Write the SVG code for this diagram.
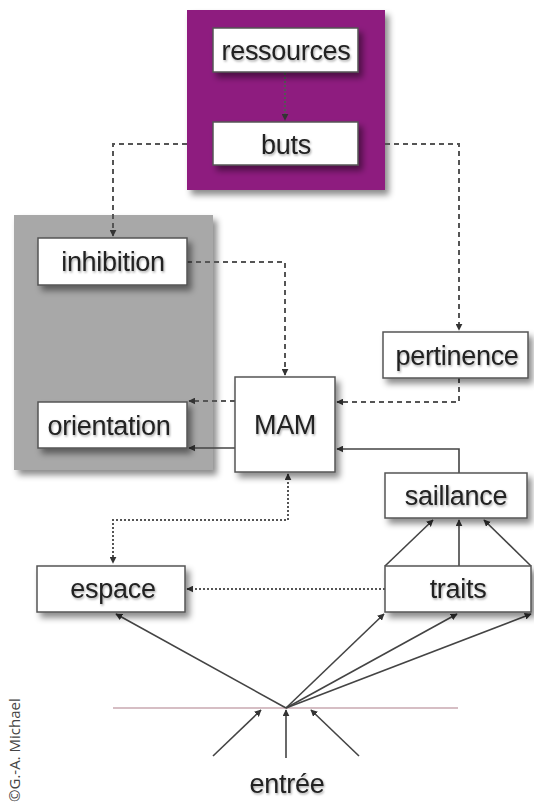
<svg xmlns="http://www.w3.org/2000/svg" width="534" height="806" viewBox="0 0 534 806">
<style>
.box{fill:#fff;stroke:#555;stroke-width:1.5}
.lbl{font-family:"Liberation Sans",Arial,sans-serif;font-size:27px;fill:#222;text-anchor:middle;letter-spacing:-0.3px}
.dash{fill:none;stroke:#555;stroke-width:2;stroke-dasharray:5 4}
.dot{fill:none;stroke:#555;stroke-width:2;stroke-dasharray:2 2}
.solid{fill:none;stroke:#444;stroke-width:1.6}
</style>
<defs>
<filter id="sh" x="-20%" y="-20%" width="150%" height="160%">
<feDropShadow dx="4" dy="5" stdDeviation="3" flood-color="#000" flood-opacity="0.45"/>
</filter>
<filter id="tsh" x="-10%" y="-30%" width="130%" height="170%">
<feDropShadow dx="1" dy="1.5" stdDeviation="1" flood-color="#000" flood-opacity="0.35"/>
</filter>
<marker id="ah" viewBox="0 0 10 10" refX="9" refY="5" markerWidth="7" markerHeight="7" orient="auto-start-reverse" markerUnits="userSpaceOnUse">
<path d="M0,0 L10,5 L0,10 z" fill="#333"/>
</marker>
</defs>
<rect width="534" height="806" fill="#fff"/>

<g id="groupe-buts">
<rect x="187" y="10" width="198" height="180" fill="#8e1f7f" filter="url(#sh)"/>
</g>
<g id="groupe-inhibition">
<rect x="14" y="215" width="199" height="255" fill="#a8a8a8" filter="url(#sh)"/>
</g>

<g id="connectors">
<path class="dot" d="M285,73 V120" marker-end="url(#ah)" stroke="#bbb"/>
<path class="dash" d="M187,144 H113 V236" marker-end="url(#ah)"/>
<path class="dash" d="M385,144 H459 V330" marker-end="url(#ah)"/>
<path class="dash" d="M187,262 H285 V375" marker-end="url(#ah)"/>
<path class="dash" d="M459,378 V402 H337" marker-end="url(#ah)"/>
<path class="dash" d="M235,401 H189" marker-end="url(#ah)"/>
<path class="solid" d="M235,448 H189" marker-end="url(#ah)"/>
<path class="solid" d="M459,473 V449 H337" marker-end="url(#ah)"/>
<path class="dot" d="M288,474 V520 H113 V563" marker-start="url(#ah)" marker-end="url(#ah)"/>
<path class="dot" d="M385,589 H187" marker-end="url(#ah)"/>
<path class="solid" d="M385,566 L433,520" marker-end="url(#ah)"/>
<path class="solid" d="M459,566 V520" marker-end="url(#ah)"/>
<path class="solid" d="M531,566 L484,520" marker-end="url(#ah)"/>
<line x1="113" y1="708" x2="458" y2="708" stroke="#c9a9b0" stroke-width="1.5"/>
<path class="solid" d="M286,708 L116,614" marker-end="url(#ah)"/>
<path class="solid" d="M286,708 L384,614" marker-end="url(#ah)"/>
<path class="solid" d="M286,708 L457,614" marker-end="url(#ah)"/>
<path class="solid" d="M286,708 L531,614" marker-end="url(#ah)"/>
<path class="solid" d="M213,756 L261,710" marker-end="url(#ah)"/>
<path class="solid" d="M286,758 V710" marker-end="url(#ah)"/>
<path class="solid" d="M359,756 L311,710" marker-end="url(#ah)"/>
</g>

<g id="ressources">
<rect class="box" x="213" y="28" width="145" height="44" filter="url(#sh)"/>
<text class="lbl" x="286" y="60" filter="url(#tsh)">ressources</text>
</g>
<g id="buts">
<rect class="box" x="213" y="122" width="145" height="43" filter="url(#sh)"/>
<text class="lbl" x="286" y="154" filter="url(#tsh)">buts</text>
</g>
<g id="inhibition">
<rect class="box" x="38" y="238" width="149" height="47" filter="url(#sh)"/>
<text class="lbl" x="113" y="271" filter="url(#tsh)">inhibition</text>
</g>
<g id="orientation">
<rect class="box" x="38" y="402" width="149" height="46" filter="url(#sh)"/>
<text class="lbl" x="109" y="435" filter="url(#tsh)">orientation</text>
</g>
<g id="pertinence">
<rect class="box" x="383" y="332" width="145" height="46" filter="url(#sh)"/>
<text class="lbl" x="457" y="365" filter="url(#tsh)">pertinence</text>
</g>
<g id="MAM">
<rect class="box" x="235" y="377" width="100" height="95" filter="url(#sh)"/>
<text class="lbl" x="285" y="434" filter="url(#tsh)">MAM</text>
</g>
<g id="saillance">
<rect class="box" x="385" y="473" width="142" height="45" filter="url(#sh)"/>
<text class="lbl" x="456" y="505" filter="url(#tsh)">saillance</text>
</g>
<g id="espace">
<rect class="box" x="37" y="566" width="148" height="46" filter="url(#sh)"/>
<text class="lbl" x="113" y="598" filter="url(#tsh)">espace</text>
</g>
<g id="traits">
<rect class="box" x="385" y="566" width="146" height="46" filter="url(#sh)"/>
<text class="lbl" x="458" y="598" filter="url(#tsh)">traits</text>
</g>
<g id="entree">
<text class="lbl" x="287" y="793" filter="url(#tsh)">entrée</text>
</g>
<text x="20" y="802" transform="rotate(-90 20 802)" font-family="'Open Sans','Liberation Sans',sans-serif" font-size="15" fill="#444">©G.-A. Michael</text>
</svg>
